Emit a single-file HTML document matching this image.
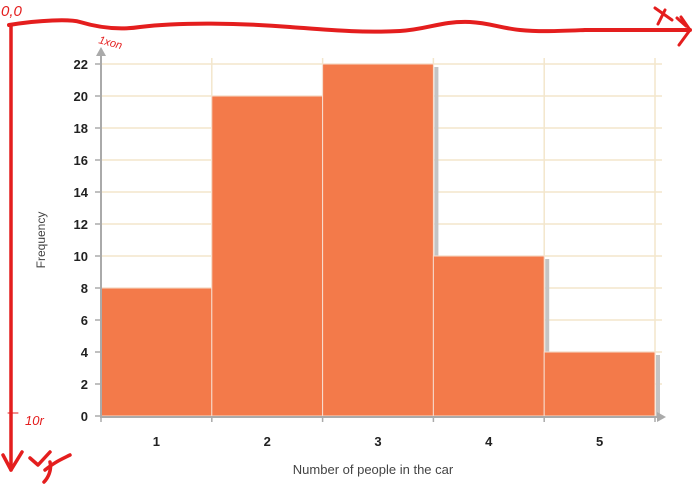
<!DOCTYPE html>
<html><head><meta charset="utf-8">
<style>
html,body{margin:0;padding:0;background:#fff;}
svg{display:block;font-family:"Liberation Sans",Arial,sans-serif;}
</style></head>
<body>
<svg id="chart" width="694" height="495" viewBox="0 0 694 495">
  <g id="grid"></g>
  <g id="bars"></g>
  <g id="axes"></g>
  <text x="45" y="240" transform="rotate(-90 45 240)" text-anchor="middle" font-size="12" fill="#444">Frequency</text>
  <text x="373" y="474" text-anchor="middle" font-size="13" fill="#444">Number of people in the car</text>
  <g fill="none" stroke="#e41e1e" stroke-linecap="round" stroke-linejoin="round">
    <path d="M9 25 C40 20,70 19,80 22 C100 28,120 30,140 27 C180 22,240 23,290 27 C330 30,360 33,400 31 C430 29,440 21,470 22 C490 23,500 28,520 30 C540 32,560 31,585 30" stroke-width="4"/>
    <path d="M585 30 L690 30" stroke-width="4"/>
    <path d="M681 17 L690 30 L679 45" stroke-width="3"/>
    <path d="M11 25 L11 470" stroke-width="3.5"/>
    <path d="M3 455 L11 470 L22 452" stroke-width="3.5"/>
    <path d="M30 458 L38 465 L50 452 M45 470 C55 462,60 460,70 455 M50 462 C52 470,48 478,44 482" stroke-width="3.5"/>
    <path d="M655 8 L672 20 M665 10 L658 24 M677 18 L686 26" stroke-width="3"/>
    <path d="M8 413 L18 413" stroke-width="1"/>
  </g>
  <text x="1" y="16" font-size="15" fill="#e41e1e" font-style="italic">0,0</text>
  <text x="98" y="43" font-size="11" fill="#e41e1e" font-style="italic" transform="rotate(15 98 43)">1xon</text>
  <text x="25" y="425" font-size="13" fill="#e41e1e" font-style="italic">10r</text>
</svg>
<script>
const categories = ["1","2","3","4","5"];
const frequencies = [8,20,22,10,4];
const yTicks = [0,2,4,6,8,10,12,14,16,18,20,22];

const NS = "http://www.w3.org/2000/svg";
const x0 = 101, x1 = 655, yBase = 416, yTop = 64, yMax = 22;
const bw = (x1 - x0) / categories.length;
const xs = i => x0 + i * bw;
const ys = v => yBase - (v / yMax) * (yBase - yTop);
function mk(tag, attrs, parent){const e=document.createElementNS(NS,tag);for(const k in attrs)e.setAttribute(k,attrs[k]);parent.appendChild(e);return e;}
const grid = document.getElementById('grid'), bars = document.getElementById('bars'), axes = document.getElementById('axes');

yTicks.forEach(t=>{
  const l = mk('line',{x1:x0,x2:662,y1:ys(t),y2:ys(t),stroke:'#f3e6cc','stroke-width':1.5},grid);
  
  
  const tk = mk('line',{x1:95,x2:101,y1:ys(t),y2:ys(t),stroke:'#aaa','stroke-width':1.5},axes);
  
  
  const tx = mk('text',{x:88,y:ys(t)+5,'text-anchor':'end','font-size':13,'font-weight':'bold',fill:'#222'},axes);
  tx.textContent = t;
  
  
});
for(let i=1;i<=categories.length;i++){
  const l = mk('line',{x1:xs(i),x2:xs(i),y1:58,y2:yBase,stroke:'#f3e6cc','stroke-width':1.5},grid);
  
  
}
categories.forEach((c,i)=>{
  const next = i+1<frequencies.length ? frequencies[i+1] : 0;
  if(frequencies[i] > next){
    const s = mk('rect',{x:xs(i+1)+1,y:ys(frequencies[i])+3,width:4,height:ys(next)-ys(frequencies[i])-3,fill:'#c4c4c4'},bars);
    
    
  }
});
categories.forEach((c,i)=>{
  const r = mk('rect',{x:xs(i),y:ys(frequencies[i]),width:bw,height:yBase-ys(frequencies[i]),fill:'#f37a4a',stroke:'#f7ddcf','stroke-width':1},bars);
  
  
  const tx = mk('text',{x:xs(i)+bw/2,y:446,'text-anchor':'middle','font-size':13,'font-weight':'bold',fill:'#222'},axes);
  tx.textContent = c;
  
  
});
for(let i=0;i<=categories.length;i++){
  const tk = mk('line',{x1:xs(i),x2:xs(i),y1:yBase,y2:yBase+6,stroke:'#aaa','stroke-width':1.5},axes);
  
  
}
const ya = mk('line',{x1:x0,x2:x0,y1:yBase+1,y2:54,stroke:'#aaa','stroke-width':2},axes);


const yar = mk('path',{d:'M96 56 L101 47 L106 56 Z',fill:'#aaa'},axes);


const xa = mk('line',{x1:x0-1,x2:x1+2,y1:yBase+1,y2:yBase+1,stroke:'#aaa','stroke-width':2},axes);


const xar = mk('path',{d:'M657 412 L666 417 L657 422 Z',fill:'#aaa'},axes);


</script>
</body></html>
